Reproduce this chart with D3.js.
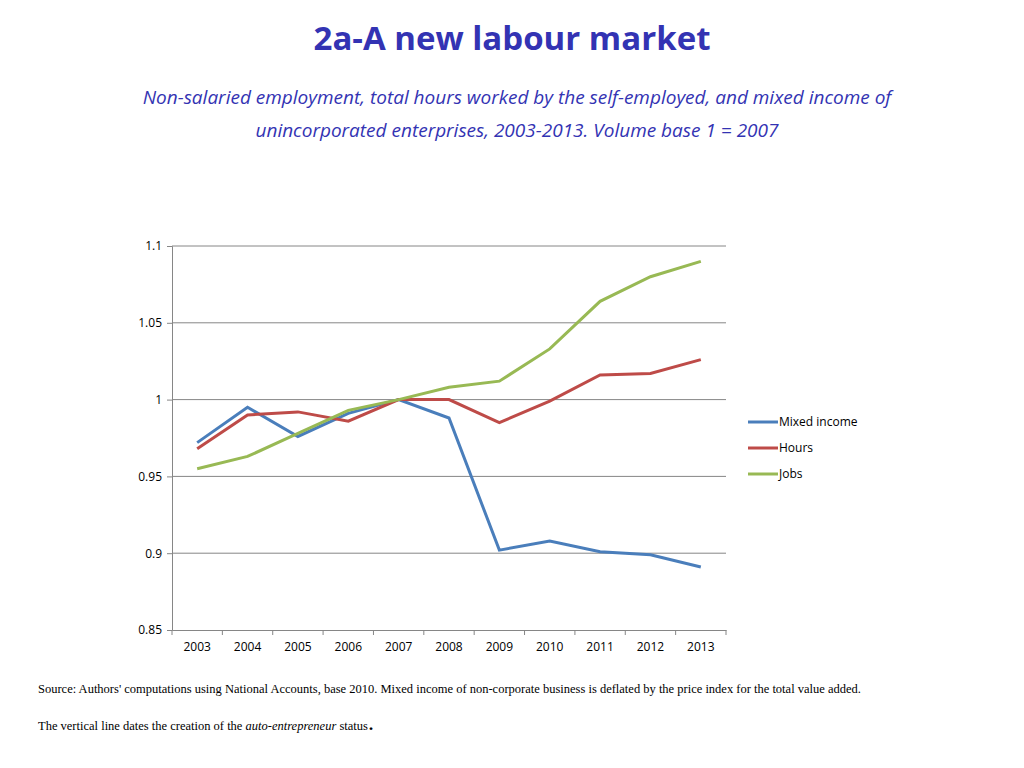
<!DOCTYPE html>
<html>
<head>
<meta charset="utf-8">
<script src="https://cdn.jsdelivr.net/npm/d3@7"></script>
<style>
  body { margin: 0; background: #fff; }
  svg { display: block; }
</style>
</head>
<body>
<svg id="chart" width="1024" height="768"></svg>
<script>
const years = ['2003', '2004', '2005', '2006', '2007', '2008', '2009', '2010', '2011', '2012', '2013'];
const mixedIncome = [0.972, 0.995, 0.976, 0.991, 1.0, 0.988, 0.902, 0.908, 0.901, 0.899, 0.891];
const hours = [0.968, 0.990, 0.992, 0.986, 1.0, 1.0, 0.985, 0.999, 1.016, 1.017, 1.026];
const jobs = [0.955, 0.963, 0.978, 0.993, 1.0, 1.008, 1.012, 1.033, 1.064, 1.080, 1.090];
const yTicks = [0.85, 0.9, 0.95, 1, 1.05, 1.1];

const series = [
  { name: 'Mixed income', values: mixedIncome, color: '#4a7ebb' },
  { name: 'Hours', values: hours, color: '#be4b48' },
  { name: 'Jobs', values: jobs, color: '#98b954' }
];

const svg = d3.select('#chart');
const plotLeft = 172, plotRight = 726, plotTop = 246, plotBottom = 630;

const x = d3.scaleBand().domain(years).range([plotLeft, plotRight]);
const y = d3.scaleLinear().domain([0.85, 1.1]).range([plotBottom, plotTop]);

// title
svg.append('text')
  .attr('x', 512).attr('y', 50)
  .attr('text-anchor', 'middle')
  .style('font-family', 'Open Sans, sans-serif')
  .style('font-size', '33px').style('font-weight', 'bold')
  .style('fill', '#3333b3')
  .text('2a-A new labour market');

const subtitle = [
  'Non-salaried employment, total hours worked by the self-employed, and mixed income of',
  'unincorporated enterprises, 2003-2013.  Volume base 1 = 2007'
];
svg.selectAll('.sub').data(subtitle).enter().append('text')
  .attr('x', 517).attr('y', (d, i) => 104 + i * 33)
  .attr('text-anchor', 'middle')
  .style('font-family', 'Open Sans, sans-serif')
  .style('font-size', '19px').style('font-style', 'italic')
  .style('fill', '#3333b3')
  .text(d => d);

// gridlines
svg.append('g').selectAll('line').data(yTicks.slice(1)).enter().append('line')
  .attr('x1', plotLeft).attr('x2', plotRight)
  .attr('y1', d => y(d)).attr('y2', d => y(d))
  .attr('stroke', '#868686').attr('stroke-width', 1);

// y axis
const yAxis = svg.append('g')
  .attr('transform', 'translate(' + plotLeft + ',0)')
  .call(d3.axisLeft(y).tickValues(yTicks).tickSize(5).tickFormat(d => String(d)));
yAxis.select('.domain').attr('stroke', '#868686');
yAxis.selectAll('.tick line').attr('stroke', '#868686');
yAxis.selectAll('text').style('font-family', 'Open Sans, sans-serif').style('font-size', '12px').attr('fill', '#000').attr('x', -10);

// x axis
const xAxis = svg.append('g')
  .attr('transform', 'translate(0,' + plotBottom + ')')
  .call(d3.axisBottom(x).tickSize(0).tickPadding(12));
xAxis.select('.domain').attr('stroke', '#868686');
xAxis.selectAll('text').style('font-family', 'Open Sans, sans-serif').style('font-size', '12px').attr('fill', '#000');
xAxis.selectAll('.sep').data(years.concat(['end'])).enter().append('line')
  .attr('x1', (d, i) => plotLeft + i * x.step()).attr('x2', (d, i) => plotLeft + i * x.step())
  .attr('y1', 0).attr('y2', 5).attr('stroke', '#868686');

// lines
const line = d3.line()
  .x((d, i) => x(years[i]) + x.bandwidth() / 2)
  .y(d => y(d));
svg.selectAll('.series').data(series).enter().append('path')
  .attr('d', d => line(d.values))
  .attr('fill', 'none')
  .attr('stroke', d => d.color)
  .attr('stroke-width', 3);

// legend
const lg = svg.selectAll('.lg').data(series).enter().append('g')
  .attr('transform', (d, i) => 'translate(748,' + (422 + i * 26) + ')');
lg.append('line').attr('x1', 0).attr('x2', 30).attr('stroke', d => d.color).attr('stroke-width', 3);
lg.append('text').attr('x', 31).attr('y', 4)
  .style('font-family', 'Open Sans, sans-serif').style('font-size', '12px')
  .text(d => d.name);

// notes
svg.append('text').attr('x', 38).attr('y', 693)
  .style('font-family', 'Liberation Serif, serif').style('font-size', '12.5px')
  .text("Source:  Authors' computations using National Accounts, base 2010.  Mixed income of non-corporate business is deflated by the price index for the total value added.");
const n2 = svg.append('text').attr('x', 38).attr('y', 730)
  .style('font-family', 'Liberation Serif, serif').style('font-size', '12.5px');
n2.append('tspan').text('The vertical line dates the creation of the ');
n2.append('tspan').style('font-style', 'italic').text('auto-entrepreneur');
n2.append('tspan').text(' status');
n2.append('tspan').style('font-size', '24px').text('.');
</script>
</body>
</html>
